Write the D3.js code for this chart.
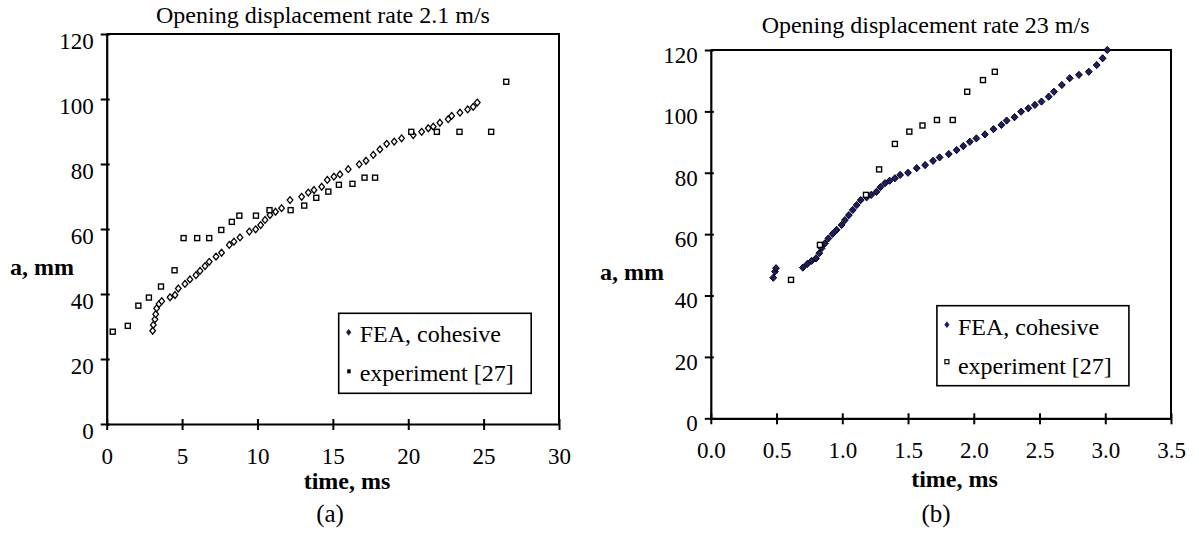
<!DOCTYPE html>
<html>
<head>
<meta charset="utf-8">
<script src="https://cdn.jsdelivr.net/npm/d3@7"></script>
<style>
  body { margin: 0; background: #fff; }
  svg { display: block; }
  text { font-family: "Liberation Serif", "Times New Roman", serif; fill: #000; }
</style>
</head>
<body>
<svg id="chart" width="1199" height="534"></svg>
<script>
// ---- panel (a): 2.1 m/s ----
const feaTimeA = [3.05, 3.09, 3.2, 3.25, 3.31, 3.47, 3.65, 4.2, 4.53, 4.75, 5.19, 5.52, 5.92, 6.19, 6.52, 6.8, 7.25, 7.62,
  8.13, 8.44, 8.84, 9.46, 9.88, 10.21, 10.5, 10.83, 11.2, 11.6, 12.16, 12.93, 13.37, 13.75, 14.26, 14.63, 15.07, 15.47,
  16.02, 16.75, 17.2, 17.68, 18.12, 18.57, 19.07, 19.56, 20.33, 20.89, 21.33, 21.66, 22.1, 22.65, 22.88, 23.43, 23.94, 24.31, 24.58]
const feaCrackA = [28.7, 30.5, 32.2, 33.8, 35.6, 36.9, 37.8, 39.0, 39.7, 41.7, 43.1, 44.5, 45.8, 47.1, 48.6, 49.9, 51.5, 52.7,
  55.1, 56.1, 57.4, 59.2, 59.9, 61.2, 62.8, 64.3, 65.3, 66.4, 68.9, 69.9, 71.2, 72.0, 73.0, 75.1, 76.1, 76.8,
  78.4, 79.9, 81.0, 82.8, 84.5, 86.2, 86.9, 87.9, 88.9, 89.9, 91.0, 91.5, 92.7, 93.8, 94.8, 95.8, 96.8, 97.6, 98.9]
const expTimeA = [0.4, 1.4, 2.1, 2.8, 3.6, 4.5, 5.1, 6.0, 6.8, 7.6, 8.3, 8.8, 9.9, 10.8, 12.2, 13.1, 13.9, 14.7, 15.4,
  16.3, 17.1, 17.8, 20.2, 21.9, 23.4, 25.5, 26.5]
const expCrackA = [28.4, 30.2, 36.4, 38.9, 42.3, 47.3, 57.2, 57.2, 57.2, 59.7, 62.2, 64.1, 64.1, 65.8, 65.8, 67.2, 69.6, 71.5, 73.6,
  73.9, 75.8, 75.8, 89.9, 89.9, 89.9, 89.9, 105.3]
const xTicksA = [0, 5, 10, 15, 20, 25, 30]

// ---- panel (b): 23 m/s ----
const feaTimeB = [0.475, 0.488, 0.496, 0.70, 0.734, 0.767, 0.80, 0.825, 0.843, 0.868, 0.894, 0.927, 0.957, 0.995, 1.02, 1.05,
  1.08, 1.11, 1.14, 1.185, 1.22, 1.26, 1.29, 1.325, 1.36, 1.40, 1.44, 1.50, 1.566, 1.63, 1.69, 1.74, 1.81, 1.87, 1.92, 1.97,
  2.02, 2.085, 2.15, 2.21, 2.25, 2.31, 2.36, 2.415, 2.465, 2.515, 2.57, 2.61, 2.67, 2.73, 2.80, 2.875, 2.935, 2.98, 3.015]
const feaCrackB = [45.8, 47.8, 48.9, 49.1, 50.3, 51.3, 52.1, 53.8, 55.4, 57.0, 58.6, 60.1, 61.4, 63.0, 64.6, 66.2,
  67.9, 69.5, 71.1, 72.0, 72.8, 73.8, 75.3, 76.6, 77.4, 78.2, 79.3, 80.0, 81.5, 82.5, 83.9, 85.0, 86.1, 87.4, 88.7, 90.1,
  91.2, 92.5, 94.2, 95.6, 97.0, 98.1, 99.9, 101.0, 102.1, 103.2, 104.8, 106.4, 108.6, 110.8, 111.9, 112.9, 115.1, 117.3, 120.0]
const expTimeB = [0.61, 0.83, 1.18, 1.28, 1.40, 1.51, 1.61, 1.72, 1.84, 1.95, 2.07, 2.16]
const expCrackB = [45.1, 56.5, 72.8, 81.1, 89.4, 93.4, 95.4, 97.2, 97.2, 106.4, 110.2, 112.9]
const xTicksB = [0, 0.5, 1, 1.5, 2, 2.5, 3, 3.5]

const yTicks = [0, 20, 40, 60, 80, 100, 120]
const legendNames = ['FEA, cohesive', 'experiment [27]']

const svg = d3.select('#chart')

function zip(xs, ys) { return xs.map((t, i) => ({t: t, a: ys[i]})) }

function diamond(w, h) { return `M0,${-h}L${w},0L0,${h}L${-w},0Z` }

function drawPanel(p) {
  const x = d3.scaleLinear().domain(p.xDomain).range([p.left, p.right])
  const y = d3.scaleLinear().domain([0, 120]).range([p.bottom, p.top])
  const g = svg.append('g')

  // frame (top + right)
  g.append('path')
    .attr('d', `M${p.left},${p.top}H${p.right}V${p.bottom}`)
    .attr('fill', 'none').attr('stroke', '#000').attr('stroke-width', 2)

  const xa = g.append('g').attr('transform', `translate(0,${p.bottom})`)
    .call(d3.axisBottom(x).tickValues(p.xTicks).tickFormat(p.xFmt).tickSizeOuter(0))
  xa.select('.domain').attr('stroke-width', 2.2)
  xa.selectAll('.tick line').attr('y1', -5).attr('y2', 6).attr('stroke-width', 2)
  xa.selectAll('.tick text').attr('y', 40).attr('dy', 0)
    .style('font-size', '23px').style('font-family', 'Liberation Serif')

  const ya = g.append('g').attr('transform', `translate(${p.left},0)`)
    .call(d3.axisLeft(y).tickValues(yTicks).tickFormat(d3.format('d')).tickSizeOuter(0))
  ya.select('.domain').attr('stroke-width', 2.2)
  ya.selectAll('.tick line').attr('x1', 3).attr('x2', -6).attr('stroke-width', 2)
  ya.selectAll('.tick text').attr('x', -13).attr('y', p.yLabelShift)
    .style('font-size', '23px').style('font-family', 'Liberation Serif')

  g.append('text').attr('x', p.titleX).attr('y', p.titleY).attr('text-anchor', 'middle')
    .style('font-size', '24px').text(p.title)
  g.append('text').attr('x', p.yLabX).attr('y', p.yLabY)
    .style('font-size', '24px').style('font-weight', 'bold').text('a, mm')
  g.append('text').attr('x', p.xLabX).attr('y', p.xLabY).attr('text-anchor', 'middle')
    .style('font-size', '24px').style('font-weight', 'bold').text('time, ms')
  g.append('text').attr('x', p.subX).attr('y', 522).attr('text-anchor', 'middle')
    .style('font-size', '25px').text(p.sub)

  // FEA diamonds
  g.append('g').selectAll('path')
    .data(zip(p.feaT, p.feaA))
    .join('path')
    .attr('transform', d => `translate(${x(d.t)},${y(d.a)})`)
    .attr('d', diamond(p.dw, p.dh))
    .attr('fill', p.feaFill).attr('stroke', '#000').attr('stroke-width', p.feaStroke)

  // experiment squares
  g.append('g').selectAll('rect')
    .data(zip(p.expT, p.expA))
    .join('rect')
    .attr('x', d => x(d.t) - 2.5).attr('y', d => y(d.a) - 2.5)
    .attr('width', 5).attr('height', 5)
    .attr('fill', '#fff').attr('stroke', '#000').attr('stroke-width', 1.4)

  // legend
  const L = p.legend
  g.append('rect').attr('x', L.x).attr('y', L.y).attr('width', L.w).attr('height', L.h)
    .attr('fill', '#fff').attr('stroke', '#000').attr('stroke-width', 1.6)
  legendNames.forEach((name, i) => {
    g.append('text').attr('x', L.x + 21).attr('y', L.y + 29 + i * 39)
      .style('font-size', '24px').text(name)
  })
  g.append('path').attr('transform', `translate(${L.x + 10},${L.y + 19})`)
    .attr('d', diamond(2.6, 3.4)).attr('fill', p.legFeaFill)
  if (p.legExpFilled) {
    g.append('rect').attr('x', L.x + 8.5).attr('y', L.y + 56).attr('width', 3.5).attr('height', 4).attr('fill', '#000')
  } else {
    g.append('rect').attr('x', L.x + 8).attr('y', L.y + 54).attr('width', 4).attr('height', 4)
      .attr('fill', '#fff').attr('stroke', '#000').attr('stroke-width', 1.2)
  }
}

drawPanel({
  xDomain: [0, 30], xTicks: xTicksA, xFmt: d3.format('d'),
  left: 106.7, right: 559, top: 34, bottom: 424, yLabelShift: 7,
  title: 'Opening displacement rate 2.1 m/s', titleX: 323, titleY: 23,
  yLabX: 10, yLabY: 275, xLabX: 347, xLabY: 489, sub: '(a)', subX: 330,
  feaT: feaTimeA, feaA: feaCrackA, dw: 2.8, dh: 3.4, feaFill: '#fff', feaStroke: 1.3,
  expT: expTimeA, expA: expCrackA,
  legend: {x: 338.7, y: 313.3, w: 192.5, h: 80}, legFeaFill: '#1a1a40', legExpFilled: true
})

drawPanel({
  xDomain: [0, 3.5], xTicks: xTicksB, xFmt: d3.format('.1f'),
  left: 710.8, right: 1171, top: 50, bottom: 418.3, yLabelShift: 5,
  title: 'Opening displacement rate 23 m/s', titleX: 925.6, titleY: 33,
  yLabX: 600, yLabY: 280, xLabX: 954.5, xLabY: 487, sub: '(b)', subX: 936,
  feaT: feaTimeB, feaA: feaCrackB, dw: 3.4, dh: 3.6, feaFill: '#1c1c6e', feaStroke: 1,
  expT: expTimeB, expA: expCrackB,
  legend: {x: 936.9, y: 305.7, w: 192, h: 80}, legFeaFill: '#1c1c6e', legExpFilled: false
})
</script>
</body>
</html>
